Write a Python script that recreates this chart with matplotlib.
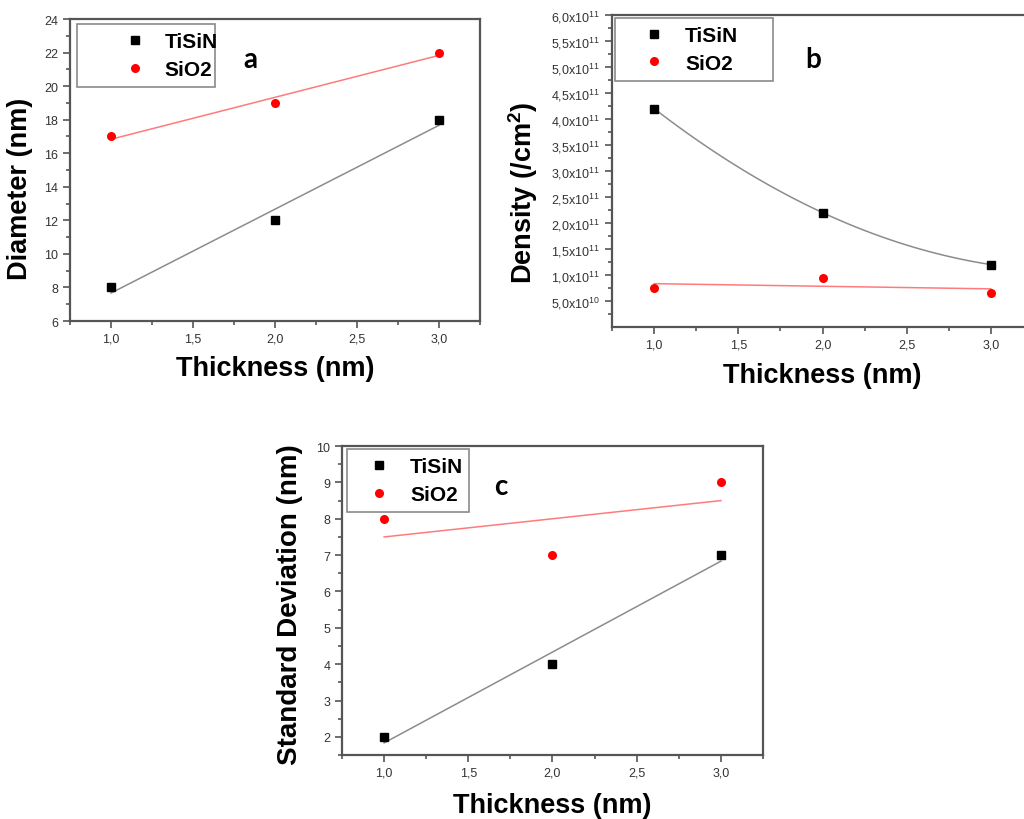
import numpy as np
import matplotlib
matplotlib.use('Agg')
from matplotlib import pyplot as plt
from matplotlib.ticker import MultipleLocator, FixedLocator, FuncFormatter
from matplotlib.legend_handler import HandlerLine2D

plt.rcParams['font.family'] = ['Liberation Sans', 'DejaVu Sans']
plt.rcParams['mathtext.fontset'] = 'custom'
plt.rcParams['mathtext.rm'] = 'Liberation Sans'
plt.rcParams['mathtext.bf'] = 'Liberation Sans:bold'

# data
thickness = [1.0, 2.0, 3.0]
diam_tisin = [8, 12, 18]
diam_sio2 = [17, 19, 22]
dens_tisin = [4.2e11, 2.2e11, 1.2e11]
dens_sio2 = [0.75e11, 0.95e11, 0.65e11]
std_tisin = [2, 4, 7]
std_sio2 = [8, 7, 9]
series_names = ['TiSiN', 'SiO2']

SPINE = '#555555'
TICK_TXT = '#333333'
FIT_BLACK = '#8c8c8c'
FIT_RED = '#ff7b7b'


def style_axes(ax):
    for s in ax.spines.values():
        s.set_color(SPINE)
        s.set_linewidth(1.6)
    ax.tick_params(which='both', direction='out', top=False, right=False,
                   colors=SPINE, labelcolor=TICK_TXT, labelsize=9, width=1.2)
    ax.tick_params(which='major', length=5)
    ax.tick_params(which='minor', length=3)
    ax.set_xlim(0.75, 3.25)
    ax.xaxis.set_major_locator(MultipleLocator(0.5))
    ax.xaxis.set_minor_locator(MultipleLocator(0.25))
    ax.xaxis.set_major_formatter(FuncFormatter(lambda v, p: f'{v:.1f}'.replace('.', ',')))


def draw_series(ax, x, y_black, y_red, deg_black=1, deg_red=1):
    xf = np.linspace(min(x), max(x), 100)
    pb = np.polyfit(x, y_black, deg_black)
    pr = np.polyfit(x, y_red, deg_red)
    ax.plot(xf, np.polyval(pb, xf), color=FIT_BLACK, lw=1.1, zorder=2)
    ax.plot(xf, np.polyval(pr, xf), color=FIT_RED, lw=1.1, zorder=2)
    hb, = ax.plot(x, y_black, 's', color='black', ms=6, zorder=3, label=series_names[0])
    hr, = ax.plot(x, y_red, 'o', color='red', ms=6.5, mec='none', zorder=3, label=series_names[1])
    return hb, hr


def add_legend(ax, handles, x0, top, width, hlen, pad, textpad=0.5):
    hm = {h: HandlerLine2D(numpoints=1, xpad=pad) for h in handles}
    leg = ax.legend(handles=handles, loc='upper left',
                    bbox_to_anchor=(x0, top - 0.3, width, 0.3),
                    mode='expand', borderaxespad=0, fancybox=False,
                    handlelength=hlen, handletextpad=textpad, borderpad=0.4,
                    labelspacing=0.4, handler_map=hm,
                    prop={'weight': 'bold', 'size': 15})
    leg.get_frame().set_edgecolor('#8a8a8a')
    leg.get_frame().set_linewidth(1.2)
    leg.get_frame().set_alpha(1)
    return leg


fig = plt.figure(figsize=(10.24, 8.2), dpi=100)

label_kw = dict(fontsize=19.5, fontweight='bold')
letter_kw = dict(fontsize=20, fontweight='bold', family=['Lato', 'DejaVu Sans'],
                 ha='center', va='center')

# panel a
ax1 = fig.add_axes([0.0684, 0.6073, 0.4004, 0.3683])
style_axes(ax1)
h = draw_series(ax1, thickness, diam_tisin, diam_sio2)
ax1.set_ylim(6, 24)
ax1.yaxis.set_major_locator(MultipleLocator(2))
ax1.yaxis.set_minor_locator(MultipleLocator(1))
ax1.set_xlabel('Thickness (nm)', **label_kw)
ax1.set_ylabel('Diameter (nm)', **label_kw)
ax1.xaxis.set_label_coords(0.5, -0.113)
ax1.yaxis.set_label_coords(-0.09, 0.44)
add_legend(ax1, list(h), 0.017, 0.983, 0.337, 3.29, 1.49)
ax1.text(0.439, 0.868, 'a', transform=ax1.transAxes, **letter_kw)

# panel b (runs past the right edge of the figure, as in the source)
ax2 = fig.add_axes([0.5977, 0.6, 0.4111, 0.3805])
style_axes(ax2)
h = draw_series(ax2, thickness, dens_tisin, dens_sio2, deg_black=2)
ax2.set_ylim(0, 6e11)
ax2.yaxis.set_major_locator(FixedLocator(np.arange(1, 13) * 0.5e11))
ax2.yaxis.set_minor_locator(FixedLocator(np.arange(0, 12) * 0.5e11 + 0.25e11))


def sci_fmt(v, p):
    e = int(np.floor(np.log10(v)))
    m = v / 10 ** e
    return f'{m:.1f}'.replace('.', ',') + r'x10$^{%d}$' % e


ax2.yaxis.set_major_formatter(FuncFormatter(sci_fmt))
ax2.set_xlabel('Thickness (nm)', **label_kw)
ax2.set_ylabel(r'Density (/cm$^{\mathbf{2}}$)', **label_kw)
ax2.xaxis.set_label_coords(0.5, -0.112)
ax2.yaxis.set_label_coords(-0.17, 0.433)
add_legend(ax2, list(h), 0.007, 0.99, 0.375, 2.47, 0.49)
ax2.text(0.477, 0.859, 'b', transform=ax2.transAxes, **letter_kw)

# panel c
ax3 = fig.add_axes([0.334, 0.078, 0.4111, 0.3768])
style_axes(ax3)
h = draw_series(ax3, thickness, std_tisin, std_sio2)
ax3.set_ylim(1.5, 10)
ax3.yaxis.set_major_locator(MultipleLocator(1))
ax3.yaxis.set_minor_locator(MultipleLocator(0.5))
ax3.set_xlabel('Thickness (nm)', **label_kw)
ax3.set_ylabel('Standard Deviation (nm)', fontsize=20, fontweight='bold')
ax3.xaxis.set_label_coords(0.5, -0.12)
ax3.yaxis.set_label_coords(-0.093, 0.489)
add_legend(ax3, list(h), 0.012, 0.99, 0.29, 2.13, 0.15)
ax3.text(0.378, 0.871, 'c', transform=ax3.transAxes, **letter_kw)

fig.savefig('out.png', dpi=100)
